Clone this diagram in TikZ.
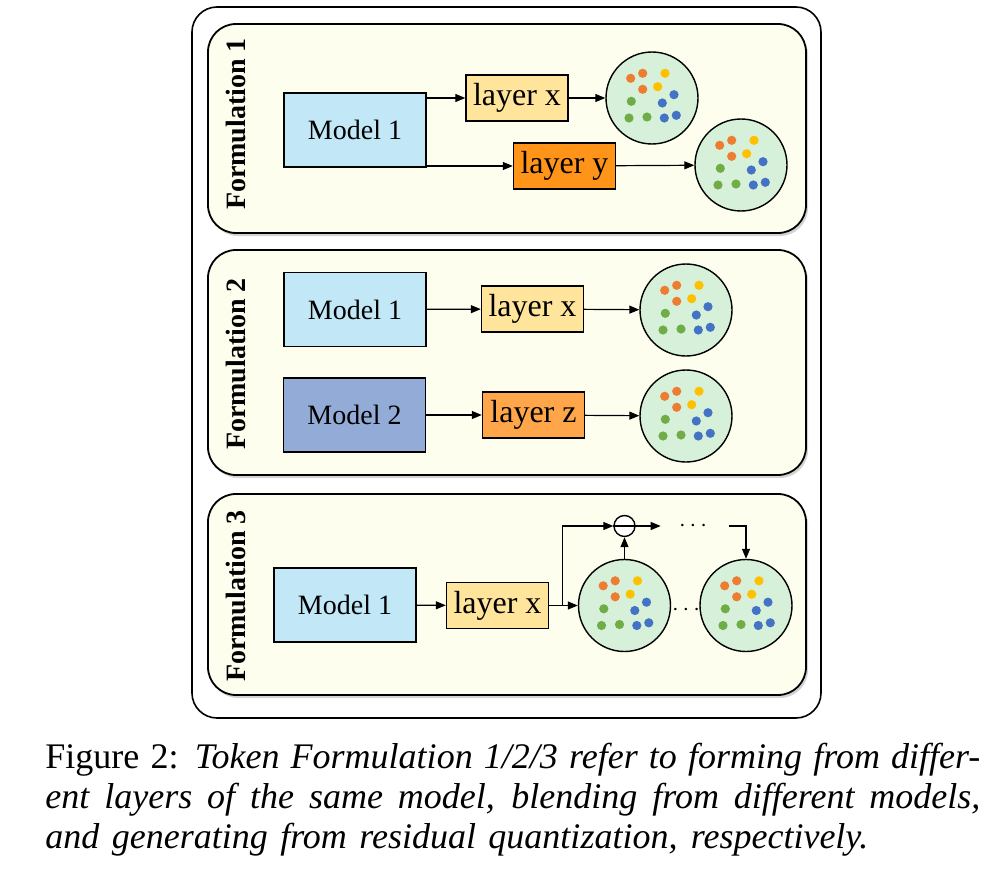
\documentclass[tikz,border=0pt]{standalone}
\usepackage{fontspec}
\setmainfont{Liberation Serif}
\usetikzlibrary{arrows, arrows.meta}
\usetikzlibrary{calc}
\usetikzlibrary{shadows}

\definecolor{panelbg}{HTML}{FEFEEF}
\definecolor{modellight}{HTML}{C2E8F7}
\definecolor{modeldark}{HTML}{93ACD7}
\definecolor{layerlight}{HTML}{FFE49C}
\definecolor{layerdeep}{HTML}{FF9419}
\definecolor{layermid}{HTML}{FFA64B}
\definecolor{ballgreen}{HTML}{D6F0DA}
\definecolor{tokorange}{HTML}{ED7D31}
\definecolor{tokyellow}{HTML}{FFC000}
\definecolor{tokgreen}{HTML}{70AD47}
\definecolor{tokblue}{HTML}{4472C4}

% token cloud inside a ball node
\newcommand{\tokendots}[1]{%
  \foreach \tx/\ty/\tc in {-21.3/-19.7/tokorange, -9.3/-24.7/tokorange, 13/-24.7/tokyellow,
      -9.3/-8.7/tokorange, 5.7/-11.3/tokyellow, 22/-3.3/tokblue, -20.7/3.3/tokgreen,
      10.3/5/tokblue, -23/20/tokgreen, -5/19/tokgreen, 12.3/20/tokblue, 24.3/17.3/tokblue}
    \fill[\tc] ($(#1)+(\tx,\ty)$) circle (2.3pt);%
}

\begin{document}
\begin{tikzpicture}[x=0.5pt, y=-0.5pt,
    panel/.style={draw, line width=0.9pt, rounded corners=14pt, fill=panelbg,
      drop shadow={shadow xshift=1pt, shadow yshift=-1.5pt, opacity=0.35}},
    model/.style={draw, line width=0.7pt, minimum width=71pt, minimum height=37pt,
      inner sep=0pt, font=\fontsize{14}{16}\selectfont},
    layerbox/.style={draw, line width=0.7pt, minimum width=51pt, minimum height=23pt,
      inner sep=0pt, font=\fontsize{16}{18}\selectfont},
    tokenball/.style={circle, draw, line width=0.7pt, fill=ballgreen, minimum size=46pt, inner sep=0pt},
    formlabel/.style={rotate=90, font=\bfseries\fontsize{14}{16}\selectfont},
    arr/.style={-{Triangle[length=5pt,width=4pt]}, line width=0.6pt}]
  \useasboundingbox (0,0) rectangle (987,878);

  \draw[line width=0.8pt, rounded corners=12.5pt] (192,7) rectangle (821,718);

  \draw[panel] (208,24) rectangle (806,233);
  \draw[panel] (208,250) rectangle (806,475);
  \draw[panel] (208,494) rectangle (806,695);

  % Formulation 1
  \node[formlabel] (f1) at (236,124) {Formulation 1};
  \node[model, fill=modellight] (m1a) at (355,130) {Model 1};
  \node[layerbox, fill=layerlight] (lxa) at (517,98) {layer x};
  \node[layerbox, fill=layerdeep] (lya) at (564.5,166) {layer y};
  \node[tokenball] (c1a) at (652,98) {};
  \node[tokenball] (c2a) at (741,165) {};
  \tokendots{c1a}
  \tokendots{c2a}

  \draw[arr] (m1a.east |- lxa) -- (lxa);
  \draw[arr] (lxa) -- (c1a);
  \draw[arr] (m1a.east |- lya) -- (lya);
  \draw[arr] (lya) -- (c2a);

  % Formulation 2
  \node[formlabel] (f2) at (236,364) {Formulation 2};
  \node[model, fill=modellight] (m1b) at (355,309.5) {Model 1};
  \node[layerbox, fill=layerlight] (lxb) at (532.5,309) {layer x};
  \node[model, fill=modeldark] (m2b) at (354.5,415) {Model 2};
  \node[layerbox, fill=layermid] (lzb) at (533.5,415) {layer z};
  \node[tokenball] (c1b) at (686,310) {};
  \node[tokenball] (c2b) at (686,416) {};
  \tokendots{c1b}
  \tokendots{c2b}

  \draw[arr] (m1b) -- (lxb);
  \draw[arr] (lxb) -- (c1b);
  \draw[arr] (m2b) -- (lzb);
  \draw[arr] (lzb) -- (c2b);

  % Formulation 3
  \node[formlabel] (f3) at (236,596) {Formulation 3};
  \node[model, fill=modellight] (m1c) at (345,605) {Model 1};
  \node[layerbox, fill=layerlight] (lxc) at (497.5,605.5) {layer x};
  \node[tokenball] (cac) at (624.5,605.5) {};
  \node[tokenball] (cbc) at (746,605.5) {};
  \tokendots{cac}
  \tokendots{cbc}
  \node[circle, draw, line width=0.7pt, fill=white, minimum size=10.5pt, inner sep=0pt] (minus) at ($(cac)+(0,-79.5)$) {};
  \draw[line width=0.7pt] (minus.west) -- (minus.east);
  \node[font=\fontsize{12}{14}\selectfont] (topdots) at (693,526) {$\cdots$};
  \node[font=\fontsize{12}{14}\selectfont] (middots) at (686,610) {$\cdots$};

  \coordinate (split) at ($(lxc.east)+(13,0)$);
  \coordinate (qend) at ($(minus.east)+(25,0)$);
  \coordinate (qstart) at (729,526);

  \draw[arr] (m1c) -- (lxc);
  \draw[arr] (lxc) -- (cac);
  \draw[arr] (split) |- (minus);
  \draw[arr] (cac) -- (minus);
  \draw[arr] (minus) -- (qend);
  \draw[arr] (qstart) -| (cbc);

  % caption
  \node[anchor=north west, align=left, inner sep=0pt, font=\fontsize{18}{20}\selectfont] (caption) at (45,743)
    {\hbox to 467.5pt{Figure 2: \textit{Token Formulation 1/2/3 refer to forming from differ-}}\\
     \hbox to 467.5pt{\textit{ent layers of the same model, blending from different models,}}\\
     \hbox to 411.5pt{\textit{and generating from residual quantization, respectively.}}};
\end{tikzpicture}
\end{document}
